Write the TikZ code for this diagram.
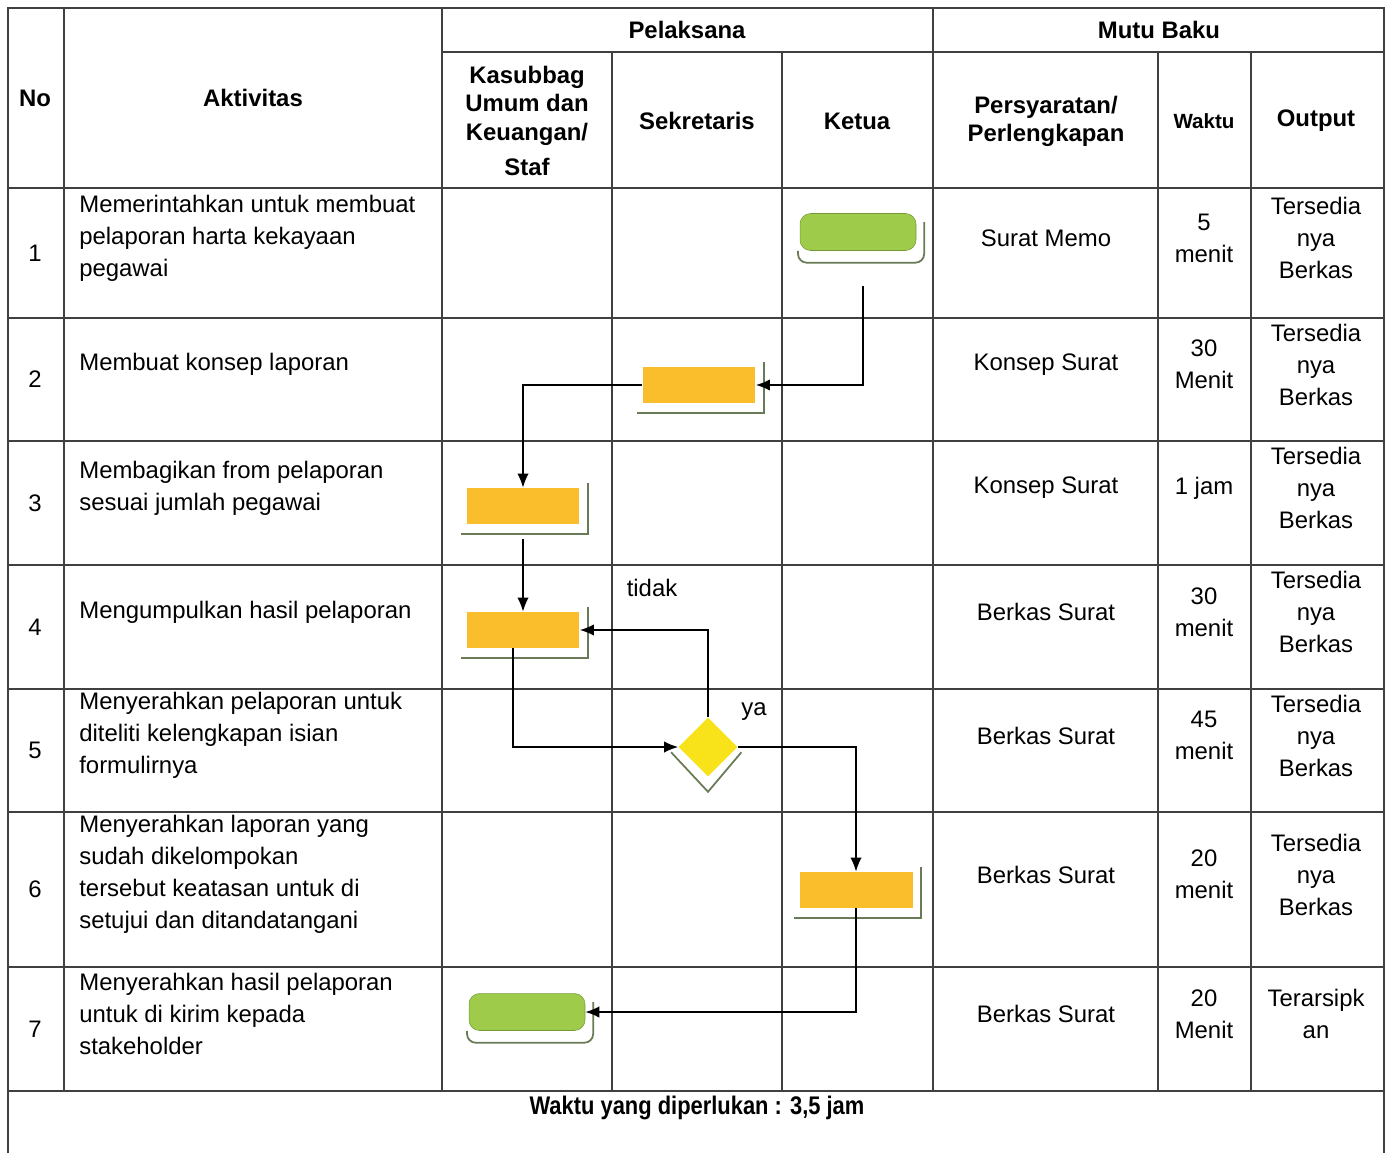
\documentclass[tikz,border=0pt]{standalone}
\usepackage{fontspec}
\setmainfont{Liberation Sans}
\newfontfamily\sempit[FakeStretch=0.86]{Liberation Sans}
\usetikzlibrary{shapes.geometric,arrows.meta}
\definecolor{hijau}{RGB}{158,204,74}
\definecolor{oranye}{RGB}{250,190,44}
\definecolor{kuning}{RGB}{248,226,26}
\definecolor{bayang}{RGB}{104,122,86}
\tikzstyle{mulai} = [rectangle, rounded corners=6pt, minimum width=2.32cm, minimum height=0.74cm, fill=hijau, draw=hijau!75!black, line width=0.3pt]
\tikzstyle{proses} = [rectangle, minimum width=2.26cm, minimum height=0.72cm, fill=oranye]
\tikzstyle{keputusan} = [diamond, aspect=1, minimum width=1.18cm, minimum height=1.18cm, inner sep=0pt, fill=kuning]
\tikzstyle{bayangan} = [draw=bayang, line width=1pt]
\tikzstyle{panah} = [-{Latex[length=8pt,width=6.5pt]}, line width=0.9pt]
\tikzstyle{garis} = [line width=0.7pt, draw=black!75]
\tikzstyle{kepala} = [inner sep=0pt, align=center, font=\bfseries\fontsize{13.6}{16}\selectfont]
\tikzstyle{isi} = [inner sep=0pt, align=center, font=\fontsize{13.6}{18.2}\selectfont]
\tikzstyle{teks} = [inner sep=0pt, align=left, anchor=west, font=\fontsize{13.6}{18.2}\selectfont]

\begin{document}
\begin{tikzpicture}[x=0.02cm, y=-0.02cm]
		\useasboundingbox (0,0) rectangle (1389,1153);
		% tabel
		\draw[garis] (8,1153) -- (8,8) -- (1384,8) -- (1384,1153);
		\draw[garis] (442,52) -- (1384,52);
		\foreach \y in {188,318,441,565,689,812,967,1091}
			\draw[garis] (8,\y) -- (1384,\y);
		\foreach \x in {64,442,933}
			\draw[garis] (\x,8) -- (\x,1091);
		\foreach \x in {612,782,1158,1251}
			\draw[garis] (\x,52) -- (\x,1091);
		
		% judul kolom
		\node[kepala](hno) at (35,98){No};
		\node[kepala](hakt) at (253,98){Aktivitas};
		\node[kepala](hpel) at (687,30){Pelaksana};
		\node[kepala](hmutu) at (1159,30){Mutu Baku};
		\node[kepala](hkasub) at (527,121){Kasubbag\\Umum dan\\Keuangan/\\[4pt]Staf};
		\node[kepala](hsek) at (697,121){Sekretaris};
		\node[kepala](hket) at (857,121){Ketua};
		\node[kepala](hsyarat) at (1046,121){Persyaratan/\\Perlengkapan};
		\node[kepala,font=\bfseries\fontsize{11.7}{14}\selectfont](hwaktu) at (1204,121){Waktu};
		\node[kepala](hout) at (1316,121){Output};
		
		% isi baris
		\foreach \i/\yc/\akt/\syr/\wkt/\out in {
			1/253/{Memerintahkan untuk membuat\\pelaporan harta kekayaan\\pegawai}/{Surat Memo}/{5\\menit}/{Tersedia\\nya\\Berkas},
			2/379.5/{Membuat konsep laporan}/{Konsep Surat}/{30\\Menit}/{Tersedia\\nya\\Berkas},
			3/503/{Membagikan from pelaporan\\sesuai jumlah pegawai}/{Konsep Surat}/{1 jam}/{Tersedia\\nya\\Berkas},
			4/627/{Mengumpulkan hasil pelaporan}/{Berkas Surat}/{30\\menit}/{Tersedia\\nya\\Berkas},
			5/750.5/{Menyerahkan pelaporan untuk\\diteliti kelengkapan isian\\formulirnya}/{Berkas Surat}/{45\\menit}/{Tersedia\\nya\\Berkas},
			6/889.5/{Menyerahkan laporan yang\\sudah dikelompokan\\tersebut keatasan untuk di\\setujui dan ditandatangani}/{Berkas Surat}/{20\\menit}/{Tersedia\\nya\\Berkas},
			7/1029/{Menyerahkan hasil pelaporan\\untuk di kirim kepada\\stakeholder}/{Berkas Surat}/{20\\Menit}/{Terarsipk\\an}}
		{
			\node[isi](no\i) at (35,\yc){\i};
			\node[teks](akt\i) at (79,\yc-15){\akt};
			\node[isi](syr\i) at (1046,\yc-15){\syr};
			\node[isi](wkt\i) at (1204,\yc-15){\wkt};
			\node[isi](out\i) at (1316,\yc-15){\out};
		}
		
		% bagan alir
		\node[mulai](perintah) at (858,232){};
		\node[proses](konsep) at (699,385){};
		\node[proses](bagi) at (523,506){};
		\node[proses](kumpul) at (523,630){};
		\node[keputusan](cek) at (708,747){};
		\node[proses](setuju) at (856,890){};
		\node[mulai](kirim) at (527,1012){};
		
		\foreach \n in {konsep,bagi,kumpul,setuju}
			\draw[bayangan] ([xshift=-3pt,yshift=-5.7pt]\n.south west) -- ([xshift=4.5pt,yshift=-5.7pt]\n.south east) -- ([xshift=4.5pt,yshift=2.5pt]\n.north east);
		\foreach \n in {perintah,kirim}
			\draw[bayangan,rounded corners=5pt] ([xshift=-1pt]\n.south west) |- ([xshift=4.5pt,yshift=-6.8pt]\n.south east) -- ([xshift=4.5pt,yshift=-5pt]\n.north east);
		\draw[bayangan] ([xshift=-4pt,yshift=-3pt]cek.west) -- ([yshift=-8.5pt]cek.south) -- ([xshift=2pt,yshift=-3pt]cek.east);
		
		\node[isi](tidak) at (652,588){tidak};
		\node[isi](ya) at (754,712){ya};
		
		\draw[panah,shorten <=0.7cm] ([xshift=0.1cm]perintah.south) |- (konsep.east);
		\draw[panah] (konsep.west) -| (bagi.north);
		\draw[panah,shorten <=0.3cm] (bagi.south) -- (kumpul.north);
		\draw[panah] ([xshift=-0.2cm]kumpul.south) |- (cek.west);
		\draw[panah] (cek.north) |- (kumpul.east);
		\draw[panah] (cek.east) -| (setuju.north);
		\draw[panah] (setuju.south) |- (kirim.east);
		
		% catatan
		\node[inner sep=0pt,font=\sempit\bfseries\fontsize{14.5}{16}\selectfont](total) at (697,1108){Waktu yang diperlukan : 3,5 jam};
		\end{tikzpicture}
\end{document}
